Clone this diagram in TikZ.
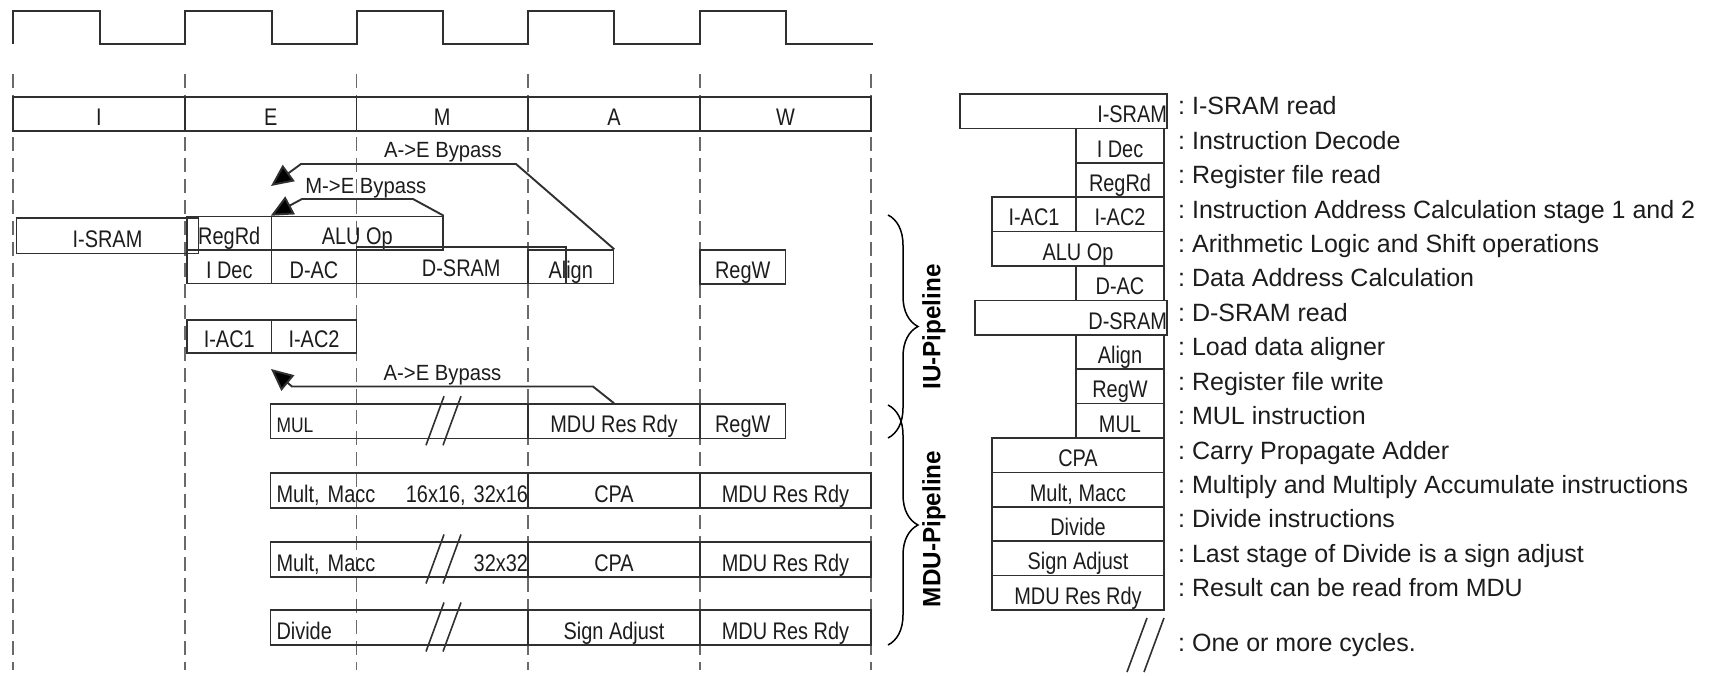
\documentclass[tikz,border=0pt]{standalone}
\usepackage{fontspec}
\setmainfont{Liberation Sans}
\newfontfamily\cellfont{Liberation Sans}[FakeStretch=0.83]
\newfontfamily\bpfont{Liberation Sans}[FakeStretch=0.92]
\newfontfamily\pipefont{Liberation Sans}[FakeStretch=0.97]
\usepackage{tikz}
\usetikzlibrary{arrows.meta, decorations.pathreplacing}
\definecolor{inkgray}{HTML}{1C1C1C}
\definecolor{linegray}{HTML}{303030}
\definecolor{dashgray}{HTML}{6A6A6A}

\begin{document}
\begin{tikzpicture}[x=1pt, y=-1pt,
  pcell/.style={rectangle, draw=linegray, line width=1.5pt, inner sep=0pt,
                text height=23pt, text depth=0pt, text=inkgray,
                font=\cellfont\fontsize{24}{28}\selectfont},
  lcell/.style={pcell, minimum height=34.4pt},
  desc/.style={anchor=base west, inner sep=0pt, text=inkgray,
               font=\fontsize{25}{30}\selectfont},
  bplabel/.style={anchor=base, inner sep=0pt, text=inkgray,
                  font=\bpfont\fontsize{22}{26}\selectfont},
  bypass/.style={draw=linegray, line width=1.9pt,
                 -{Triangle[length=22pt, width=20pt, fill=black]}},
  cycline/.style={draw=dashgray, line width=1.4pt, dash pattern=on 14pt off 7pt},
  clk/.style={draw=linegray, line width=2pt},
  brk/.style={draw=linegray, line width=1.6pt},
  pipebrace/.style={decorate, decoration={brace, amplitude=30pt},
                    draw=black, line width=1.5pt},
  pipelabel/.style={rotate=90, inner sep=0pt, text=black,
                    font=\pipefont\bfseries\fontsize{25}{30}\selectfont}
]
\useasboundingbox (0,0) rectangle (1711,676);
\frenchspacing

% Clock
\draw[clk] (13,44) -- (13,11) -- (100,11) -- (100,44) -- (185,44)
  -- (185,11) -- (272,11) -- (272,44) -- (357,44)
  -- (357,11) -- (443,11) -- (443,44) -- (528,44)
  -- (528,11) -- (614,11) -- (614,44) -- (700,44)
  -- (700,11) -- (786,11) -- (786,44) -- (873,44);

% Cycle boundaries
\draw[cycline] (13,74) -- (13,670);
\draw[cycline] (185,74) -- (185,670);
\draw[cycline] (356.5,74) -- (356.5,670);
\draw[cycline] (528,74) -- (528,670);
\draw[cycline] (700,74) -- (700,670);
\draw[cycline] (871,74) -- (871,670);

% Stages
\node[pcell, minimum width=172pt, minimum height=34pt] (stI) at (99,114) {I};
\node[pcell, minimum width=171.5pt, minimum height=34pt] (stE) at (270.75,114) {E};
\node[pcell, minimum width=171.5pt, minimum height=34pt] (stM) at (442.25,114) {M};
\node[pcell, minimum width=172pt, minimum height=34pt] (stA) at (614,114) {A};
\node[pcell, minimum width=171pt, minimum height=34pt] (stW) at (785.5,114) {W};

% IU pipeline
\node[pcell, minimum width=181.7pt, minimum height=35.5pt] (isram) at (107.5,236) {I-SRAM};
\node[pcell, minimum width=84.5pt, minimum height=33.5pt] (regrd) at (229.25,233.25) {RegRd};
\node[pcell, minimum width=171.5pt, minimum height=33.5pt] (aluop) at (357.25,233.25) {ALU Op};
\node[pcell, minimum width=209.5pt, minimum height=36.5pt] (dsram) at (461.25,265.25) {D-SRAM};
\node[pcell, minimum width=84.5pt, minimum height=33.5pt] (idec) at (229.25,266.75) {I Dec};
\node[pcell, minimum width=85pt, minimum height=33.5pt] (dac) at (314,266.75) {D-AC};
\node[pcell, minimum width=85.5pt, minimum height=33.5pt] (align) at (570.75,266.75) {Align};
\node[pcell, minimum width=85.5pt, minimum height=34pt] (regw) at (742.75,267) {RegW};
\node[pcell, minimum width=84.5pt, minimum height=33pt] (iac1) at (229.25,336.5) {I-AC1};
\node[pcell, minimum width=85pt, minimum height=33pt] (iac2) at (314,336.5) {I-AC2};

% MDU pipeline
\node[pcell, minimum height=34.5pt, text width=257.5pt, align=left] (mulIn) at (399.25,421.25)
      {\hspace*{6pt}{\fontsize{21}{24}\selectfont MUL}};
\node[pcell, minimum width=172pt, minimum height=34.5pt] (mulRdy) at (614,421.25) {MDU Res Rdy};
\node[pcell, minimum width=85.5pt, minimum height=34.5pt] (mulW) at (742.75,421.25) {RegW};

\node[pcell, minimum height=35pt, text width=257.5pt, align=left] (maccA) at (399.25,490.5)
      {\hspace*{6pt}Mult, Macc\hfill 16x16, 32x16};
\node[pcell, minimum width=172pt, minimum height=35pt] (cpaA) at (614,490.5) {CPA};
\node[pcell, minimum width=171pt, minimum height=35pt] (rdyA) at (785.5,490.5) {MDU Res Rdy};

\node[pcell, minimum height=35pt, text width=257.5pt, align=left] (maccB) at (399.25,559.5)
      {\hspace*{6pt}Mult, Macc\hfill 32x32};
\node[pcell, minimum width=172pt, minimum height=35pt] (cpaB) at (614,559.5) {CPA};
\node[pcell, minimum width=171pt, minimum height=35pt] (rdyB) at (785.5,559.5) {MDU Res Rdy};

\node[pcell, minimum height=35pt, text width=257.5pt, align=left] (divIn) at (399.25,627.5)
      {\hspace*{6pt}Divide};
\node[pcell, minimum width=172pt, minimum height=35pt] (sign) at (614,627.5) {Sign Adjust};
\node[pcell, minimum width=171pt, minimum height=35pt] (rdyC) at (785.5,627.5) {MDU Res Rdy};

% One or more cycles
\draw[brk] (426,445.25) -- ++(18,-49);  \draw[brk] (443,445.25) -- ++(18,-49);
\draw[brk] (426,583.5) -- ++(18,-49);   \draw[brk] (443,583.5) -- ++(18,-49);
\draw[brk] (426,651.5) -- ++(18,-49);   \draw[brk] (443,651.5) -- ++(18,-49);

% Bypasses
\coordinate (aeTipA) at (271,186);
\coordinate (aeTipB) at (271,369);
\draw[bypass] (align.north east) -- (516,164)
      -- node[bplabel, pos=0.34, yshift=6pt]{A->E Bypass} (301,164) -- (aeTipA);
\draw[bypass] (aluop.north east) -- (413,199)
      -- node[bplabel, pos=0.425, yshift=5.7pt]{M->E Bypass} (302,199) -- (aluop.north west);
\draw[bypass] (mulRdy.north) -- (593,386.5)
      -- node[bplabel, pos=0.5, yshift=6.5pt]{A->E Bypass} (292,386.5) -- (aeTipB);

% Pipelines
\draw[pipebrace] (888,215) -- (888,438);
\draw[pipebrace] (888,405) -- (888,645);
\node[pipelabel] (iulab) at (934,327) {IU-Pipeline};
\node[pipelabel] (mdulab) at (934,529) {MDU-Pipeline};

% Legend
\node[lcell, text width=207pt, align=right] (lsram) at (1063.5,111.2) {I-SRAM};
\node[lcell, minimum width=88pt] (ldec) at (1120,145.6) {I Dec};
\node[lcell, minimum width=88pt] (lrd) at (1120,180) {RegRd};
\node[lcell, minimum width=84pt] (liac1) at (1034,214.4) {I-AC1};
\node[lcell, minimum width=88pt] (liac2) at (1120,214.4) {I-AC2};
\node[lcell, minimum width=172pt] (lalu) at (1078,248.8) {ALU Op};
\node[lcell, minimum width=88pt] (ldac) at (1120,283.2) {D-AC};
\node[lcell, text width=192pt, align=right] (ldsram) at (1071,317.6) {D-SRAM};
\node[lcell, minimum width=88pt] (lalign) at (1120,352) {Align};
\node[lcell, minimum width=88pt] (lregw) at (1120,386.4) {RegW};
\node[lcell, minimum width=88pt] (lmul) at (1120,420.8) {MUL};
\node[lcell, minimum width=172pt] (lcpa) at (1078,455.2) {CPA};
\node[lcell, minimum width=172pt] (lmacc) at (1078,489.6) {Mult, Macc};
\node[lcell, minimum width=172pt] (ldiv) at (1078,524) {Divide};
\node[lcell, minimum width=172pt] (lsign) at (1078,558.4) {Sign Adjust};
\node[lcell, minimum width=172pt] (lrdy) at (1078,592.8) {MDU Res Rdy};
\draw[brk] (1127,672) -- (1147,618);
\draw[brk] (1144,672) -- (1164,618);

\node[desc] (dsramd) at (1178,115) {: I-SRAM read};
\node[desc] (ddec) at (1178,149.4) {: Instruction Decode};
\node[desc] (drd) at (1178,183.8) {: Register file read};
\node[desc] (diac) at (1178,218.2) {: Instruction Address Calculation stage 1 and 2};
\node[desc] (dalu) at (1178,252.6) {: Arithmetic Logic and Shift operations};
\node[desc] (ddac) at (1178,287) {: Data Address Calculation};
\node[desc] (ddsram) at (1178,321.4) {: D-SRAM read};
\node[desc] (dalign) at (1178,355.8) {: Load data aligner};
\node[desc] (dregw) at (1178,390.2) {: Register file write};
\node[desc] (dmul) at (1178,424.6) {: MUL instruction};
\node[desc] (dcpa) at (1178,459) {: Carry Propagate Adder};
\node[desc] (dmacc) at (1178,493.4) {: Multiply and Multiply Accumulate instructions};
\node[desc] (ddiv) at (1178,527.8) {: Divide instructions};
\node[desc] (dsign) at (1178,562.2) {: Last stage of Divide is a sign adjust};
\node[desc] (drdy) at (1178,596.6) {: Result can be read from MDU};
\node[desc] (dcyc) at (1178,651) {: One or more cycles.};

\end{tikzpicture}
\end{document}
